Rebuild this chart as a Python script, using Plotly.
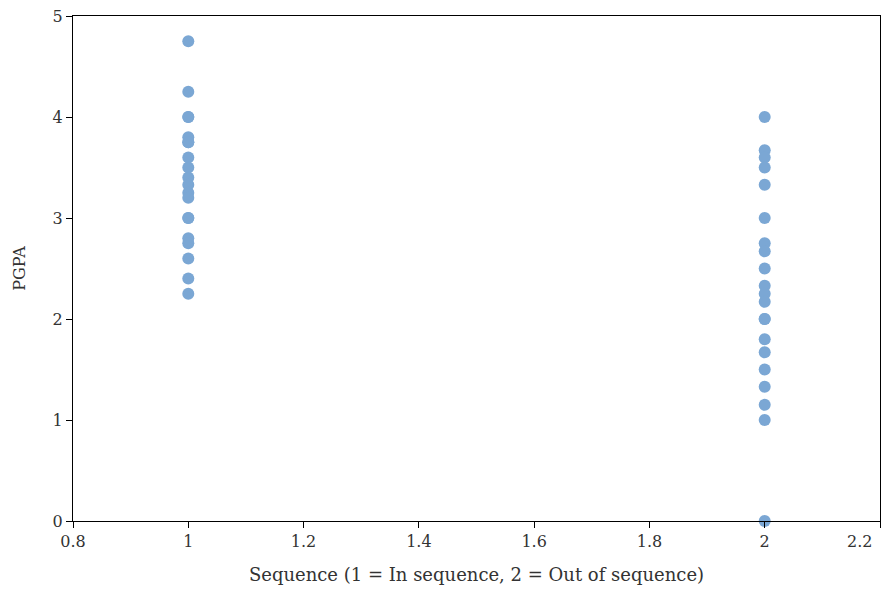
import plotly.graph_objects as go

# Sequence group (1 = in sequence, 2 = out of sequence) and PGPA per student
in_seq_pgpa = [4.75, 4.25, 4.0, 4.0, 3.8, 3.75, 3.75, 3.6, 3.5, 3.4, 3.33, 3.25, 3.2,
               3.0, 3.0, 2.8, 2.75, 2.6, 2.4, 2.25]
out_seq_pgpa = [4.0, 3.67, 3.6, 3.5, 3.33, 3.0, 2.75, 2.67, 2.5, 2.33, 2.25, 2.17,
                2.0, 2.0, 1.8, 1.67, 1.5, 1.33, 1.15, 1.0, 0.0]

sequence = [1] * len(in_seq_pgpa) + [2] * len(out_seq_pgpa)
pgpa = in_seq_pgpa + out_seq_pgpa

x_ticks = [0.8, 1, 1.2, 1.4, 1.6, 1.8, 2, 2.2]
x_tick_labels = ["0.8", "1", "1.2", "1.4", "1.6", "1.8", "2", "2.2"]
y_ticks = [0, 1, 2, 3, 4, 5]

FONT = "DejaVu Serif"
TEXT = "#333"

fig = go.Figure(
    go.Scatter(
        x=sequence,
        y=pgpa,
        mode="markers",
        marker=dict(size=12, color="#7ba7d4", line=dict(width=0)),
        cliponaxis=False,
        showlegend=False,
    )
)

axis_common = dict(
    showline=True,
    linecolor="black",
    linewidth=1.3,
    mirror=True,
    showgrid=False,
    zeroline=False,
    ticks="outside",
    ticklen=6,
    tickcolor="black",
    automargin=False,
    tickfont=dict(family=FONT, size=16, color=TEXT),
)

# the last x label sits at the page edge, so it is drawn right-aligned to its tick
edge_label = x_tick_labels[-1]
axis_labels = x_tick_labels[:-1] + [""]

fig.update_layout(
    width=890,
    height=593,
    margin=dict(l=73, r=10, t=16, b=72),
    paper_bgcolor="white",
    plot_bgcolor="white",
    font=dict(family=FONT, color=TEXT),
    xaxis=dict(
        range=[0.8, 2.2],
        tickvals=x_ticks,
        ticktext=axis_labels,
        title=dict(text="Sequence (1 = In sequence, 2 = Out of sequence)",
                   font=dict(family=FONT, size=18, color=TEXT), standoff=18),
        **axis_common,
    ),
    yaxis=dict(
        range=[0, 5],
        tickvals=y_ticks,
        title=dict(text="PGPA", font=dict(family=FONT, size=16, color=TEXT), standoff=22),
        **axis_common,
    ),
    annotations=[
        dict(
            x=x_ticks[-1], xref="x",
            y=0, yref="paper",
            text=edge_label,
            showarrow=False,
            xanchor="right", yanchor="top",
            xshift=-6, yshift=-8.5,
            font=dict(family=FONT, size=16, color=TEXT),
        )
    ],
)

fig.write_html("out.html")
